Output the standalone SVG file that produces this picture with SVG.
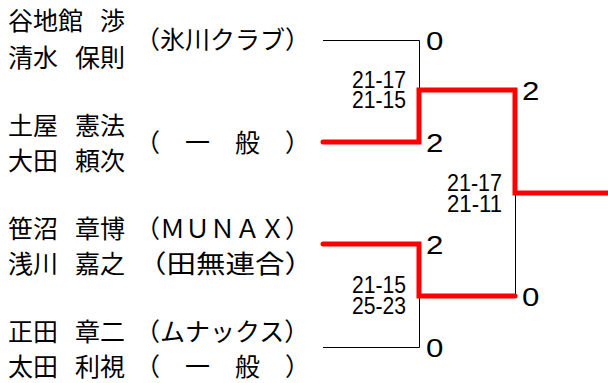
<svg xmlns="http://www.w3.org/2000/svg" width="608" height="383" viewBox="0 0 608 383">
<style>
.nm{font-family:"Noto Sans CJK JP","Noto Sans CJK SC",sans-serif;font-size:25px;fill:#000}
.tm{font-family:"Noto Sans CJK JP","Noto Sans CJK SC",sans-serif;font-size:25px;fill:#000}
.gs{font-family:"Liberation Sans",Arial,sans-serif;font-size:24px;fill:#000}
.sc{font-family:"Liberation Sans",Arial,sans-serif;font-size:25px;fill:#000}
.thin{fill:none;stroke:#000;stroke-width:1}
.win{fill:none;stroke:#ff0000;stroke-width:5;stroke-linecap:round;stroke-linejoin:miter}
</style>
<rect width="608" height="383" fill="#fff"/>
<g id="connectors">
<path class="thin" d="M323,40.5 H419.5 V90"/>
<path class="thin" d="M323,347.5 H419.5 V296"/>
<path class="thin" d="M515.5,193 V296"/>
<path class="win" d="M323,142 H419 V90 H515 V193 H610"/>
<path class="win" d="M323,244 H419 V296 H515"/>
</g>
<g id="entry1">
<text class="nm" y="30"><tspan x="8">谷地館 </tspan><tspan x="100">渉</tspan></text>
<text class="nm" y="67"><tspan x="8">清水 </tspan><tspan x="75">保則</tspan></text>
<text class="tm" x="135" y="49">（氷川クラブ）</text>
</g>
<g id="entry2">
<text class="nm" y="135"><tspan x="8">土屋 </tspan><tspan x="75">憲法</tspan></text>
<text class="nm" y="170"><tspan x="8">大田 </tspan><tspan x="75">頼次</tspan></text>
<text class="tm" x="135" y="152">（　一　般　）</text>
</g>
<g id="entry3">
<text class="nm" y="238"><tspan x="8">笹沼 </tspan><tspan x="75">章博</tspan></text>
<text class="tm" x="135" y="238">（ＭＵＮＡＸ）</text>
<text class="nm" y="273"><tspan x="8">浅川 </tspan><tspan x="75">嘉之</tspan></text>
<text class="tm" x="137" y="273" textLength="177" lengthAdjust="spacingAndGlyphs">（田無連合）</text>
</g>
<g id="entry4">
<text class="nm" y="341"><tspan x="8">正田 </tspan><tspan x="75">章二</tspan></text>
<text class="tm" x="135" y="341">（ムナックス）</text>
<text class="nm" y="376"><tspan x="8">太田 </tspan><tspan x="75">利視</tspan></text>
<text class="tm" x="135" y="376">（　一　般　）</text>
</g>
<g id="match1">
<text class="gs" x="352" y="88" textLength="54" lengthAdjust="spacingAndGlyphs">21-17</text>
<text class="gs" x="352" y="108" textLength="54" lengthAdjust="spacingAndGlyphs">21-15</text>
<text class="sc" transform="translate(426,50) scale(1.25,1)">0</text>
<text class="sc" transform="translate(426,152) scale(1.25,1)">2</text>
</g>
<g id="match2">
<text class="gs" x="352" y="293" textLength="54" lengthAdjust="spacingAndGlyphs">21-15</text>
<text class="gs" x="352" y="314" textLength="54" lengthAdjust="spacingAndGlyphs">25-23</text>
<text class="sc" transform="translate(426,254) scale(1.25,1)">2</text>
<text class="sc" transform="translate(426,357) scale(1.25,1)">0</text>
</g>
<g id="match3">
<text class="gs" x="447" y="191" textLength="55" lengthAdjust="spacingAndGlyphs">21-17</text>
<text class="gs" x="447" y="212" textLength="55" lengthAdjust="spacingAndGlyphs">21-11</text>
<text class="sc" transform="translate(522,100) scale(1.25,1)">2</text>
<text class="sc" transform="translate(522,306) scale(1.25,1)">0</text>
</g>
</svg>
